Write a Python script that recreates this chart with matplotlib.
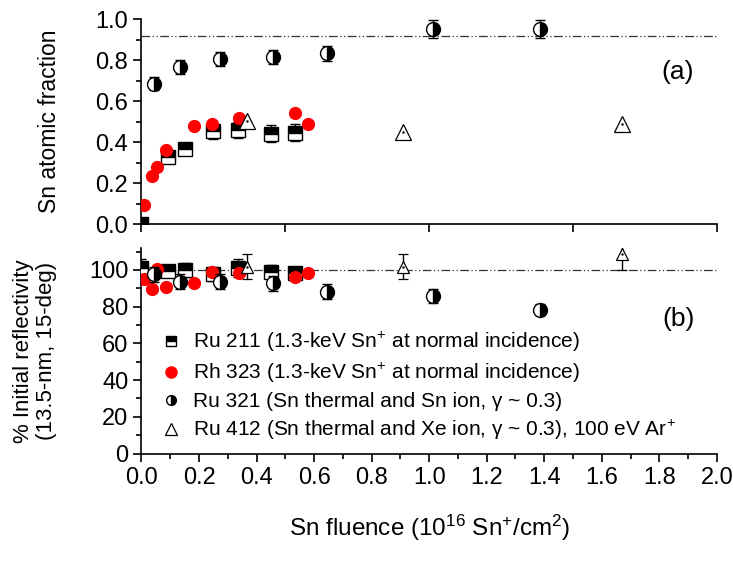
import matplotlib
matplotlib.use('Agg')
import matplotlib.pyplot as plt
from matplotlib.lines import Line2D
from matplotlib.ticker import MultipleLocator

plt.rcParams['font.family'] = ['Liberation Sans', 'DejaVu Sans']
plt.rcParams['mathtext.fontset'] = 'custom'
plt.rcParams['mathtext.rm'] = 'Liberation Sans'
plt.rcParams['mathtext.it'] = 'Liberation Sans:italic'

# Ru 211 (1.3-keV Sn+ at normal incidence)
ru211_x = [0.0, 0.093, 0.153, 0.247, 0.337, 0.449, 0.532]
ru211_frac = [0.0, 0.328, 0.366, 0.454, 0.459, 0.442, 0.447]
ru211_frac_err = [0.01, 0.03, 0.03, 0.04, 0.04, 0.04, 0.04]
ru211_refl = [100.9, 99.4, 100.0, 97.8, 100.9, 99.1, 98.2]
ru211_refl_err = [5, 3.5, 4, 4, 5, 3.5, 3.5]

# Rh 323 (1.3-keV Sn+ at normal incidence)
rh323_x = [0.008, 0.037, 0.055, 0.084, 0.183, 0.246, 0.34, 0.535, 0.578]
rh323_frac = [0.093, 0.236, 0.28, 0.361, 0.481, 0.488, 0.516, 0.543, 0.491]
rh323_refl = [95.1, 89.5, 100.4, 90.9, 93.1, 99.1, 98.2, 96.0, 98.5]

# Ru 321 (Sn thermal and Sn ion)
ru321_x = [0.043, 0.135, 0.272, 0.457, 0.645, 1.012, 1.385]
ru321_frac = [0.686, 0.765, 0.807, 0.814, 0.833, 0.951, 0.951]
ru321_frac_err = [0.03, 0.034, 0.035, 0.035, 0.037, 0.045, 0.045]
ru321_refl = [97.6, 93.6, 93.5, 92.7, 88.2, 85.8, 78.2]
ru321_refl_err = [4, 4, 4, 4, 4, 4, 3]

# Ru 412 (Sn thermal and Xe ion), 100 eV Ar+
ru412_x = [0.368, 0.91, 1.67]
ru412_frac = [0.504, 0.45, 0.491]
ru412_refl = [101.8, 101.8, 108.5]
ru412_refl_err = [7, 7, 8.5]

ref_frac = 0.92
ref_refl = 100

labels = ['Ru 211 (1.3-keV Sn$^{+}$ at normal incidence)',
          'Rh 323 (1.3-keV Sn$^{+}$ at normal incidence)',
          'Ru 321 (Sn thermal and Sn ion, γ ~ 0.3)',
          'Ru 412 (Sn thermal and Xe ion, γ ~ 0.3), 100 eV Ar$^{+}$']

DASH_DOT_DOT = (0, (7, 2, 1, 2, 1, 2))


def style_axis(ax):
    ax.spines['top'].set_visible(False)
    ax.spines['right'].set_visible(False)
    for s in ['left', 'bottom']:
        ax.spines[s].set_linewidth(1.2)
    ax.tick_params(which='major', direction='out', length=6, width=1.2, labelsize=17)
    ax.tick_params(which='minor', direction='out', length=3.5, width=1.2)
    ax.set_xlim(0, 2.0)


def draw(ax, a, b, c, d, a_err, c_err, d_err, tri_ms):
    ax.errorbar(ru211_x, a, yerr=a_err, fmt='s', ms=10, mfc='black', mfcalt='white',
                fillstyle='top', mec='black', mew=1, ecolor='black', elinewidth=1,
                capsize=3.5, capthick=1, zorder=3)
    ax.plot(rh323_x, b, 'o', ms=8.5, color='#ff0000', mec='#ff0000', zorder=4)
    ax.errorbar(ru321_x, c, yerr=c_err, fmt='o', ms=10, mfc='black', mfcalt='white',
                fillstyle='right', mec='black', mew=1, ecolor='black', elinewidth=1,
                capsize=3.5, capthick=1, zorder=5)
    if d_err is None:
        ax.plot(ru412_x, d, '^', ms=tri_ms, mfc='white', mec='black', mew=0.9, zorder=6)
    else:
        ax.errorbar(ru412_x, d, yerr=d_err, fmt='^', ms=tri_ms, mfc='white', mec='black',
                    mew=0.9, ecolor='black', elinewidth=1, capsize=3.5, capthick=1, zorder=6)
    ax.plot(ru412_x, d, '.', ms=1.5, color='black', zorder=7)


fig = plt.figure(figsize=(7.33, 5.62), dpi=100)
ax1 = fig.add_axes([0.193, 0.601, 0.785, 0.365])
ax2 = fig.add_axes([0.193, 0.193, 0.785, 0.366])

# (a) Sn atomic fraction
draw(ax1, ru211_frac, rh323_frac, ru321_frac, ru412_frac, ru211_frac_err, ru321_frac_err, None, 11)
ax1.axhline(ref_frac, color='#333333', lw=0.9, ls=DASH_DOT_DOT, zorder=1)
style_axis(ax1)
ax1.set_ylim(0, 1.0)
ax1.yaxis.set_major_locator(MultipleLocator(0.2))
ax1.yaxis.set_minor_locator(MultipleLocator(0.1))
ax1.xaxis.set_major_locator(MultipleLocator(0.5))
ax1.set_xticklabels([])
ax1.yaxis.set_major_formatter(plt.FormatStrFormatter('%.1f'))
ax1.set_ylabel('Sn atomic fraction', fontsize=16.5, labelpad=25)
ax1.text(0.931, 0.74, '(a)', transform=ax1.transAxes, fontsize=19, ha='center', va='center')

# (b) reflectivity
draw(ax2, ru211_refl, rh323_refl, ru321_refl, ru412_refl, ru211_refl_err, ru321_refl_err,
     ru412_refl_err, 9)
ax2.axhline(ref_refl, color='#333333', lw=0.9, ls=DASH_DOT_DOT, zorder=1)
style_axis(ax2)
ax2.set_ylim(0, 112)
ax2.yaxis.set_major_locator(MultipleLocator(20))
ax2.yaxis.set_minor_locator(MultipleLocator(10))
ax2.xaxis.set_major_locator(MultipleLocator(0.2))
ax2.xaxis.set_minor_locator(MultipleLocator(0.1))
ax2.xaxis.set_major_formatter(plt.FormatStrFormatter('%.1f'))
ax2.set_ylabel('% Initial reflectivity\n(13.5-nm, 15-deg)', fontsize=16, labelpad=23,
               linespacing=1.1)
ax2.set_xlabel('Sn fluence (10$^{16}$ Sn$^{+}$/cm$^{2}$)', fontsize=17.5, labelpad=17)
ax2.text(0.933, 0.655, '(b)', transform=ax2.transAxes, fontsize=19, ha='center', va='center')

handles = [
    Line2D([], [], ls='none', marker='s', ms=7, mfc='black', mfcalt='white', fillstyle='top',
           mec='black', mew=1),
    Line2D([], [], ls='none', marker='o', ms=8, color='#ff0000'),
    Line2D([], [], ls='none', marker='o', ms=7, mfc='black', mfcalt='white', fillstyle='right',
           mec='black', mew=1),
    Line2D([], [], ls='none', marker='^', ms=8, mfc='white', mec='black', mew=0.9),
]
ax2.legend(handles, labels, loc='upper left', bbox_to_anchor=(0.035, 0.6), frameon=False,
           fontsize=15, handlelength=0.9, handletextpad=0.6, labelspacing=0.33,
           borderpad=0, borderaxespad=0)

fig.savefig('out.png', dpi=100)
